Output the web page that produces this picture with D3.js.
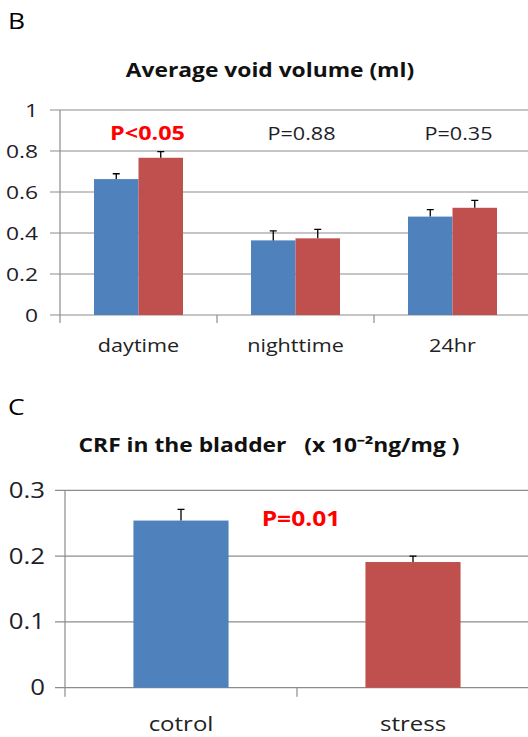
<!DOCTYPE html>
<html>
<head>
<meta charset="utf-8">
<script src="https://cdn.jsdelivr.net/npm/d3@7"></script>
<style>
  body { margin: 0; background: #fff; }
  svg { display: block; font-family: "Open Sans", sans-serif; }
</style>
</head>
<body>
<div id="chart"></div>
<script>
// panel B data
var categories = ["daytime", "nighttime", "24hr"]
var seriesNames = ["control", "stress"]
var controlMean = [0.663, 0.364, 0.48]
var controlErr = [0.026, 0.046, 0.034]
var stressMean = [0.767, 0.374, 0.523]
var stressErr = [0.030, 0.044, 0.036]
var pLabels = ["P<0.05", "P=0.88", "P=0.35"]
var pSignificant = [true, false, false]
var volumeTicks = [0, 0.2, 0.4, 0.6, 0.8, 1]

// panel C data
var crfGroups = ["cotrol", "stress"]
var crfMean = [0.254, 0.191]
var crfErr = [0.017, 0.009]
var crfTicks = [0, 0.1, 0.2, 0.3]
var crfP = "P=0.01"

var blue = "#4f81bd", red = "#c0504d"
var gridColor = "#8c8c8c", textColor = "#1e1e2a"
// the original picture is a bit stretched sideways, so text is widened too
var sx = 1.2

function place(x, y) {
  return "translate(" + x + "," + y + ") scale(" + sx + ",1)"
}

var svg = d3.select("#chart").append("svg")
    .attr("width", 528)
    .attr("height", 737)

// ---------- panel B ----------
svg.append("text").attr("transform", place(8, 29))
    .attr("font-size", 22).attr("fill", "#000").text("B")

svg.append("text").attr("transform", place(270, 77))
    .attr("text-anchor", "middle").attr("font-size", 19).attr("font-weight", "bold")
    .attr("fill", "#111").text("Average void volume (ml)")

var x0 = d3.scaleBand().domain(categories).range([60, 531])
var x1 = d3.scaleBand().domain(seriesNames).range([0, x0.bandwidth()]).paddingOuter(0.764)
var y = d3.scaleLinear().domain([0, 1]).range([315, 110])

var gB = svg.append("g")

// gridlines + y ticks
gB.selectAll(".grid").data(volumeTicks).join("line")
    .attr("x1", 50).attr("x2", 531)
    .attr("y1", d => y(d)).attr("y2", d => y(d))
    .attr("stroke", gridColor).attr("stroke-width", 1.2)

gB.selectAll(".ylab").data(volumeTicks).join("text")
    .attr("transform", d => place(38, y(d))).attr("dy", "0.35em")
    .attr("text-anchor", "end").attr("font-size", 19).attr("fill", textColor)
    .text(d => d3.format("~g")(d))

// y axis line and category ticks
gB.append("line").attr("x1", 60).attr("x2", 60).attr("y1", y(1)).attr("y2", y(0) + 8)
    .attr("stroke", gridColor).attr("stroke-width", 1.2)
gB.selectAll(".ctick").data(categories.slice(1)).join("line")
    .attr("x1", d => x0(d)).attr("x2", d => x0(d))
    .attr("y1", y(0)).attr("y2", y(0) + 8)
    .attr("stroke", gridColor).attr("stroke-width", 1.2)

var rowsB = categories.map((c, i) => ({
  cat: c,
  vals: [
    {s: "control", v: controlMean[i], e: controlErr[i], c: blue},
    {s: "stress", v: stressMean[i], e: stressErr[i], c: red}
  ]
}))

var grp = gB.selectAll(".grp").data(rowsB).join("g")
    .attr("transform", d => "translate(" + x0(d.cat) + ",0)")

grp.selectAll("rect").data(d => d.vals).join("rect")
    .attr("x", d => x1(d.s)).attr("width", x1.bandwidth())
    .attr("y", d => y(d.v)).attr("height", d => y(0) - y(d.v))
    .attr("fill", d => d.c)

// error bars (upper only)
grp.selectAll(".err").data(d => d.vals).join("path")
    .attr("d", d => {
      var cx = x1(d.s) + x1.bandwidth() / 2
      return "M" + cx + "," + y(d.v) + "V" + y(d.v + d.e) + "M" + (cx - 3.5) + "," + y(d.v + d.e) + "H" + (cx + 3.5)
    })
    .attr("stroke", "#000").attr("stroke-width", 1.3).attr("fill", "none")

gB.selectAll(".xlab").data(categories).join("text")
    .attr("transform", d => place(x0(d) + x0.bandwidth() / 2, 352))
    .attr("text-anchor", "middle").attr("font-size", 18).attr("fill", "#222")
    .text(d => d)

gB.selectAll(".plab").data(pLabels).join("text")
    .attr("transform", (d, i) => place(x0(categories[i]) + x0.bandwidth() / 2 + (i == 0 ? 9 : 6), y(0.855)))
    .attr("text-anchor", "middle")
    .attr("font-size", (d, i) => pSignificant[i] ? 19.5 : 18)
    .attr("font-weight", (d, i) => pSignificant[i] ? "bold" : "normal")
    .attr("fill", (d, i) => pSignificant[i] ? "#ff0000" : textColor)
    .text(d => d)

// ---------- panel C ----------
svg.append("text").attr("transform", place(8, 415))
    .attr("font-size", 22).attr("fill", "#000").text("C")

var title2 = svg.append("text").attr("transform", place(269, 452))
    .attr("text-anchor", "middle").attr("font-size", 19).attr("font-weight", "bold")
    .attr("fill", "#111")
title2.append("tspan").text("CRF in the bladder\u00a0\u00a0\u00a0(x 10")
title2.append("tspan").text("\u207b\u00b2").attr("font-size", 19)
title2.append("tspan").text("ng/mg )")

var xc = d3.scaleBand().domain(crfGroups).range([65, 529]).paddingInner(0.59).paddingOuter(0.295)
var yc = d3.scaleLinear().domain([0, 0.3]).range([687.7, 490.3])

var gC = svg.append("g")

gC.selectAll(".grid").data(crfTicks).join("line")
    .attr("x1", 55).attr("x2", 529)
    .attr("y1", d => yc(d)).attr("y2", d => yc(d))
    .attr("stroke", gridColor).attr("stroke-width", 1.2)

gC.selectAll(".ylab").data(crfTicks).join("text")
    .attr("transform", d => place(45, yc(d))).attr("dy", "0.35em")
    .attr("text-anchor", "end").attr("font-size", 21.5).attr("fill", textColor)
    .text(d => d3.format("~g")(d))

gC.append("line").attr("x1", 65).attr("x2", 65).attr("y1", yc(0.3)).attr("y2", yc(0) + 9)
    .attr("stroke", gridColor).attr("stroke-width", 1.2)
gC.append("line")
    .attr("x1", 65 + xc.step()).attr("x2", 65 + xc.step())
    .attr("y1", yc(0)).attr("y2", yc(0) + 9)
    .attr("stroke", gridColor).attr("stroke-width", 1.2)

var rowsC = crfGroups.map((g, i) => ({g: g, v: crfMean[i], e: crfErr[i], c: i == 0 ? blue : red}))

gC.selectAll("rect").data(rowsC).join("rect")
    .attr("x", d => xc(d.g)).attr("width", xc.bandwidth())
    .attr("y", d => yc(d.v)).attr("height", d => yc(0) - yc(d.v))
    .attr("fill", d => d.c)

gC.selectAll(".err").data(rowsC).join("path")
    .attr("d", d => {
      var cx = xc(d.g) + xc.bandwidth() / 2
      return "M" + cx + "," + yc(d.v) + "V" + yc(d.v + d.e) + "M" + (cx - 3.5) + "," + yc(d.v + d.e) + "H" + (cx + 3.5)
    })
    .attr("stroke", "#000").attr("stroke-width", 1.3).attr("fill", "none")

gC.selectAll(".xlab").data(crfGroups).join("text")
    .attr("transform", d => place(xc(d) + xc.bandwidth() / 2, 731))
    .attr("text-anchor", "middle").attr("font-size", 20).attr("fill", "#222")
    .text(d => d)

gC.append("text")
    .attr("transform", place(65 + xc.step() + 4, yc(0.2457)))
    .attr("text-anchor", "middle").attr("font-size", 20.5).attr("font-weight", "bold")
    .attr("fill", "#ff0000").text(crfP)
</script>
</body>
</html>
